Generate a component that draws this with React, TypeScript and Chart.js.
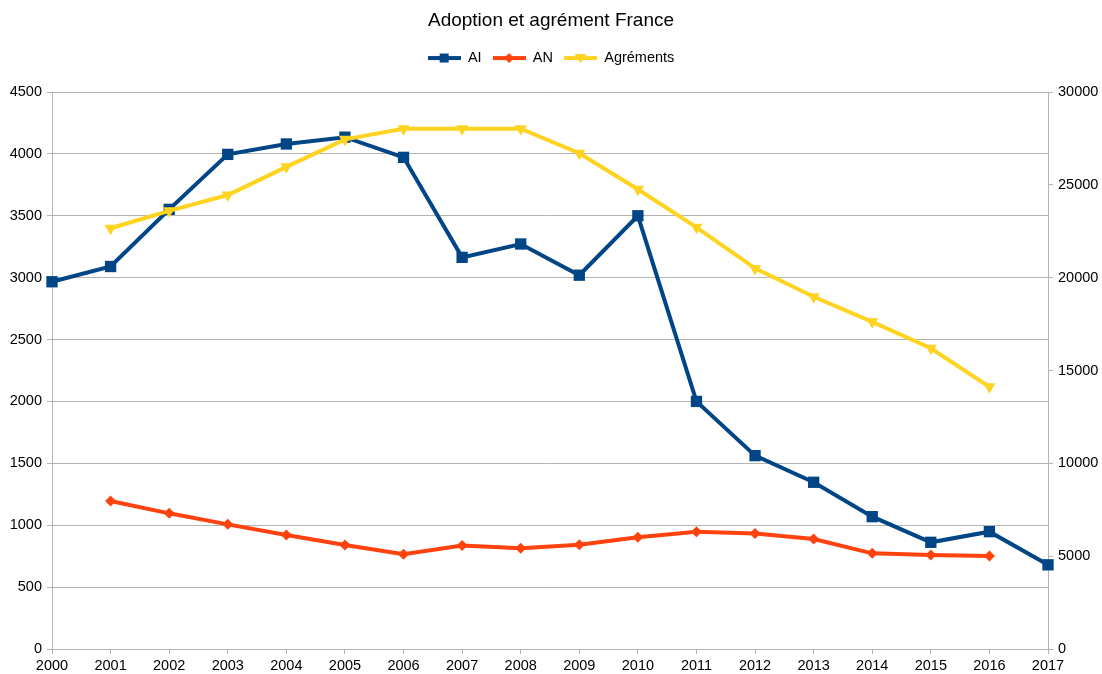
import React, { useEffect, useRef } from "react";
import { Chart, registerables } from "chart.js";

Chart.register(...registerables);

const years = ["2000","2001","2002","2003","2004","2005","2006","2007","2008","2009","2010","2011","2012","2013","2014","2015","2016","2017"];
const aiValues = [2967, 3090, 3552, 3996, 4080, 4135, 3972, 3164, 3272, 3020, 3500, 2000, 1562, 1347, 1069, 862, 948, 680];
const anValues = [null, 1196, 1096, 1007, 921, 840, 765, 837, 813, 843, 902, 948, 934, 889, 773, 759, 752, null];
const agrementValues = [null, 22660, 23600, 24450, 25970, 27450, 28020, 28020, 28020, 26700, 24760, 22710, 20500, 18970, 17620, 16200, 14120, null];

const titleText = "Adoption et agrément France";
const seriesNames = ["AI", "AN", "Agréments"];
const colors = ["#004586", "#ff420e", "#ffd320"];
const leftTicks = { min: 0, max: 4500, step: 500 };
const rightTicks = { min: 0, max: 30000, step: 5000 };

function makeIcon(color: string, kind: string): HTMLCanvasElement {
  const c = document.createElement("canvas");
  c.width = 33;
  c.height = 14;
  const ctx = c.getContext("2d")!;
  ctx.strokeStyle = color;
  ctx.fillStyle = color;
  ctx.lineWidth = 4;
  ctx.beginPath();
  ctx.moveTo(0, 7);
  ctx.lineTo(33, 7);
  ctx.stroke();
  ctx.beginPath();
  if (kind === "square") {
    ctx.rect(12, 2.5, 9, 9);
  } else if (kind === "diamond") {
    ctx.moveTo(16.5, 2);
    ctx.lineTo(21.5, 7);
    ctx.lineTo(16.5, 12);
    ctx.lineTo(11.5, 7);
    ctx.closePath();
  } else {
    ctx.moveTo(10.5, 3);
    ctx.lineTo(22.5, 3);
    ctx.lineTo(16.5, 12);
    ctx.closePath();
  }
  ctx.fill();
  return c;
}

const FONT = "'Liberation Sans', Arial, sans-serif";
const plain = (v: any) => String(v);

export default function App() {
  const ref = useRef<HTMLCanvasElement | null>(null);
  useEffect(() => {
    document.body.style.margin = "0";
    const icons = [
      makeIcon(colors[0], "square"),
      makeIcon(colors[1], "diamond"),
      makeIcon(colors[2], "triangle"),
    ];
    const legendFitPlugin = {
      id: "legendFit",
      beforeLayout(chart: any) {
        const lg = chart.legend;
        if (lg && !lg.__patched) {
          const orig = lg.fit;
          lg.fit = function () {
            orig.call(this);
            this.height = 92 - 39.8;
          };
          lg.__patched = true;
        }
      },
    };
    const chart = new Chart(ref.current!, {
      type: "line",
      data: {
        labels: years,
        datasets: [
          {
            label: seriesNames[0],
            data: aiValues,
            borderColor: colors[0],
            backgroundColor: colors[0],
            borderWidth: 4,
            pointStyle: "rect",
            pointRadius: 8,
            pointBorderWidth: 0,
            yAxisID: "y",
            order: 2,
          },
          {
            label: seriesNames[1],
            data: anValues,
            borderColor: colors[1],
            backgroundColor: colors[1],
            borderWidth: 4,
            pointStyle: "rectRot",
            pointRadius: 5.5,
            pointBorderWidth: 0,
            yAxisID: "y",
            order: 1,
          },
          {
            label: seriesNames[2],
            data: agrementValues,
            borderColor: colors[2],
            backgroundColor: colors[2],
            borderWidth: 4,
            pointStyle: "triangle",
            pointRotation: 180,
            pointRadius: 7,
            pointBorderWidth: 0,
            yAxisID: "y1",
            order: 0,
          },
        ],
      },
      options: {
        responsive: false,
        animation: false,
        layout: { padding: 0 },
        plugins: {
          tooltip: { enabled: false },
          title: {
            display: true,
            text: titleText,
            color: "#000",
            font: { family: FONT, size: 19, weight: "normal" },
            padding: { top: 9, bottom: 8 },
          },
          legend: {
            display: true,
            position: "top",
            labels: {
              color: "#000",
              font: { family: FONT, size: 14.5 },
              usePointStyle: true,
              pointStyleWidth: 33,
              padding: 11,
              generateLabels: () =>
                seriesNames.map((n, i) => ({
                  text: n,
                  pointStyle: icons[i],
                  fillStyle: colors[i],
                  strokeStyle: colors[i],
                  lineWidth: 0,
                  hidden: false,
                  datasetIndex: i,
                  fontColor: "#000",
                })),
            },
          },
        },
        scales: {
          x: {
            type: "category",
            offset: false,
            grid: {
              display: true,
              drawOnChartArea: false,
              drawTicks: true,
              tickLength: 5,
              color: "#b3b3b3",
            },
            border: { color: "#b3b3b3", width: 1 },
            ticks: {
              color: "#000",
              font: { family: FONT, size: 14.5 },
              padding: 3,
              maxRotation: 0,
              autoSkip: false,
            },
            afterFit(scale: any) {
              scale.height = 25;
            },
          },
          y: {
            type: "linear",
            position: "left",
            min: leftTicks.min,
            max: leftTicks.max,
            ticks: {
              stepSize: leftTicks.step,
              color: "#000",
              font: { family: FONT, size: 14.5 },
              padding: 5,
              callback: plain,
            },
            grid: { color: "#b3b3b3", tickLength: 5, lineWidth: 1 },
            border: { color: "#b3b3b3", width: 1 },
            afterFit(scale: any) {
              scale.width = 52;
            },
          },
          y1: {
            type: "linear",
            position: "right",
            min: rightTicks.min,
            max: rightTicks.max,
            ticks: {
              stepSize: rightTicks.step,
              color: "#000",
              font: { family: FONT, size: 14.5 },
              padding: 5,
              callback: plain,
            },
            grid: { drawOnChartArea: false, color: "#b3b3b3", tickLength: 5 },
            border: { color: "#b3b3b3", width: 1 },
            afterFit(scale: any) {
              scale.width = 54;
            },
          },
        },
      },
      plugins: [legendFitPlugin],
    } as any);
    return () => chart.destroy();
  }, []);
  return (
    <div style={{ position: "absolute", left: 0, top: 0, width: 1102, height: 674, background: "#fff" }}>
      <canvas ref={ref} width={1102} height={674} style={{ display: "block" }} />
    </div>
  );
}
